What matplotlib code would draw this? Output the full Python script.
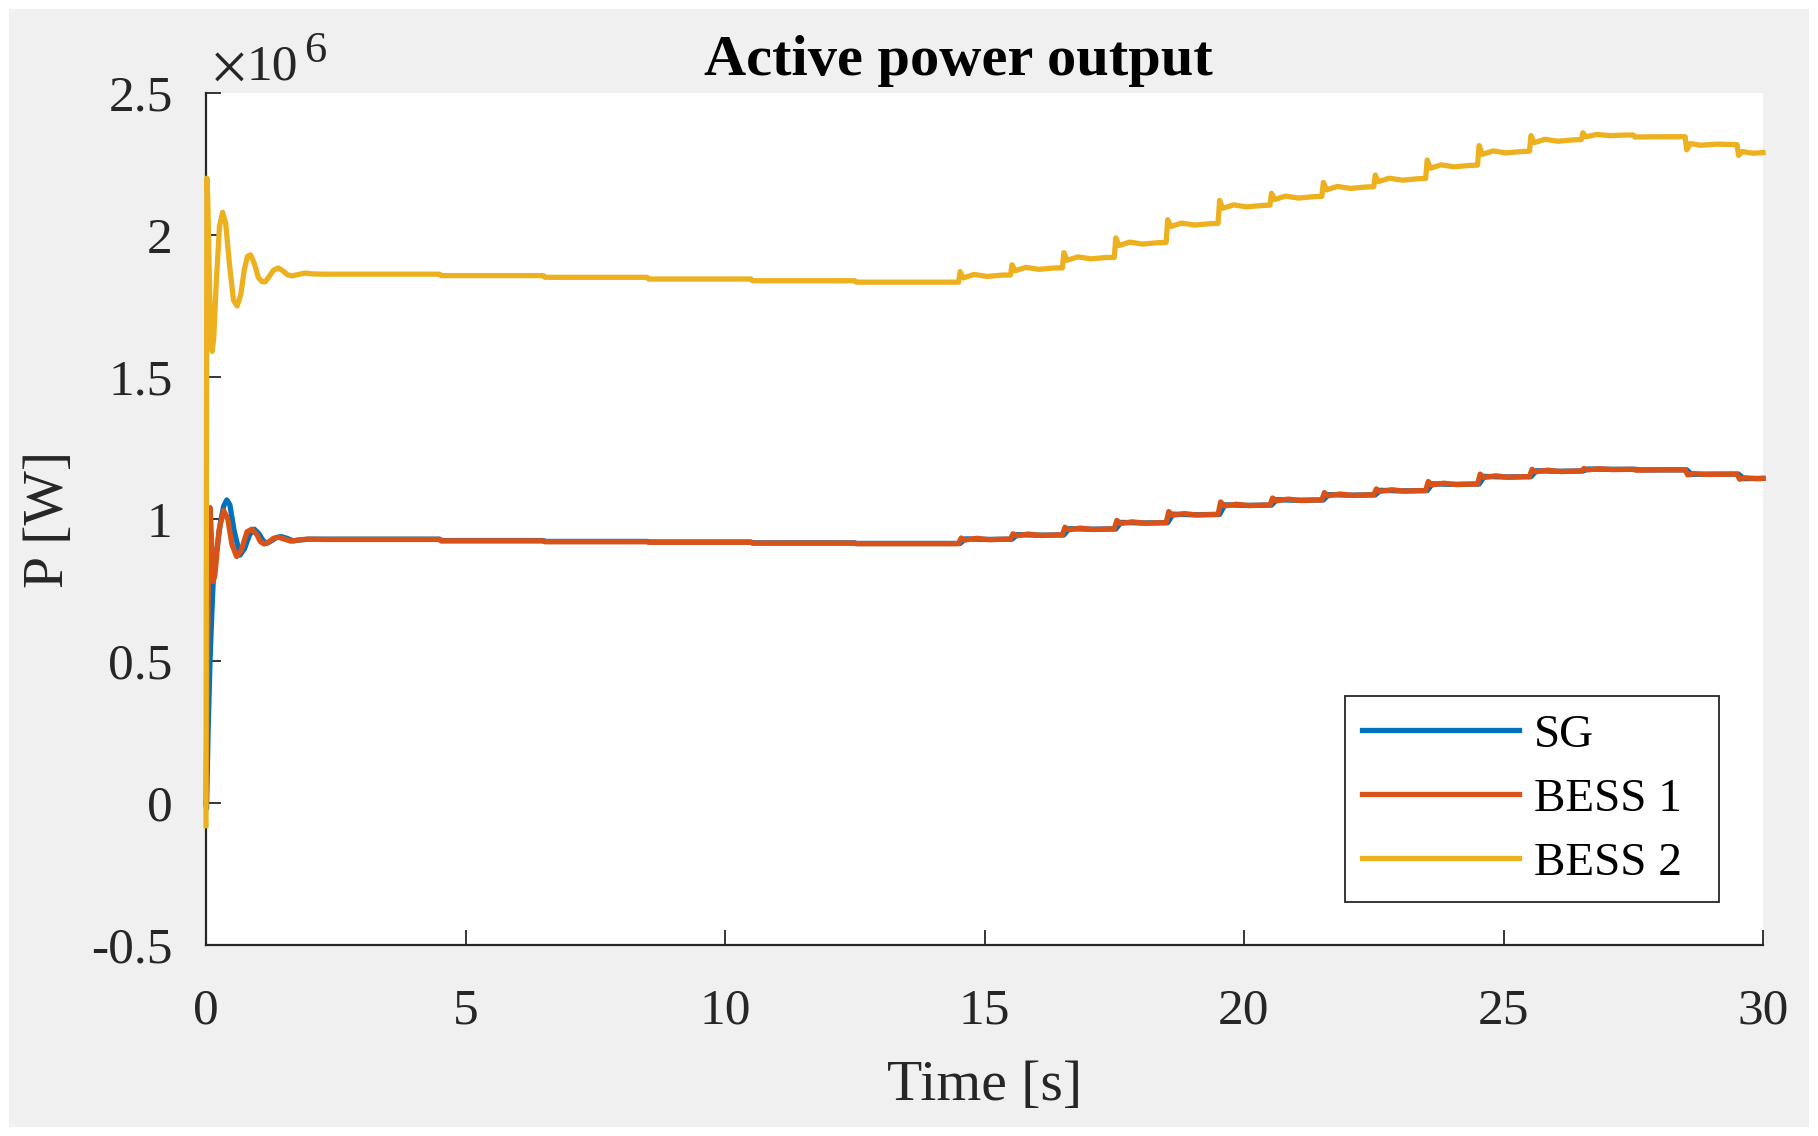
import numpy as np
import matplotlib.pyplot as plt
from matplotlib.patches import Rectangle
from matplotlib.ticker import FuncFormatter
plt.switch_backend('agg')

plt.rcParams['font.family'] = ['Liberation Serif', 'DejaVu Serif']
plt.rcParams['mathtext.fontset'] = 'stix'

# ---- data (power in units of 1e6 W) ----
t_sg = [0.000, 0.010, 0.040, 0.077, 0.110, 0.140, 0.200, 0.280, 0.340, 0.400, 0.460, 0.540,
        0.655, 0.740, 0.840, 0.930, 1.020, 1.100, 1.170, 1.250, 1.350, 1.445, 1.560, 1.680,
        1.850, 2.000, 2.300,
        4.50, 4.53, 6.50, 6.53, 8.50, 8.53, 10.50, 10.53, 12.50, 12.53, 14.50,
        14.53, 14.63, 15.00, 15.53, 15.63, 16.00, 16.53, 16.63, 17.00, 17.53, 17.63, 18.00,
        18.53, 18.63, 19.00, 19.53, 19.63, 20.00, 20.53, 20.63, 21.00, 21.53, 21.63, 22.00,
        22.53, 22.63, 23.00, 23.53, 23.63, 24.00, 24.53, 24.63, 25.00, 25.53, 25.63, 26.00,
        26.53, 26.63, 27.00, 27.53, 27.63, 28.53, 28.63, 29.00, 29.53, 29.63, 30.00]
p_sg = [0.000, -0.020, 0.250, 0.500, 0.660, 0.785, 0.880, 0.990, 1.045, 1.067, 1.050, 0.960,
        0.873, 0.895, 0.945, 0.964, 0.948, 0.924, 0.914, 0.922, 0.934, 0.938, 0.932, 0.923,
        0.927, 0.929, 0.929,
        0.929, 0.924, 0.924, 0.921, 0.921, 0.919, 0.919, 0.916, 0.916, 0.914, 0.914,
        0.914, 0.930, 0.928, 0.929, 0.945, 0.943, 0.944, 0.966, 0.964, 0.965, 0.988, 0.986,
        0.987, 1.017, 1.015, 1.016, 1.050, 1.048, 1.049, 1.068, 1.066, 1.067, 1.086, 1.084,
        1.085, 1.101, 1.099, 1.100, 1.124, 1.122, 1.123, 1.150, 1.148, 1.149, 1.170, 1.168,
        1.169, 1.176, 1.175, 1.175, 1.173, 1.173, 1.157, 1.158, 1.158, 1.142, 1.143]

t_b1 = [0.000, 0.030, 0.060, 0.080, 0.105, 0.135, 0.170, 0.250, 0.340, 0.420, 0.500, 0.590,
        0.680, 0.790, 0.880, 0.980, 1.050, 1.120, 1.200, 1.300, 1.390, 1.500, 1.630, 1.780,
        1.950, 2.300,
        4.50, 4.53, 6.50, 6.53, 8.50, 8.53, 10.50, 10.53, 12.50, 12.53, 14.50,
        14.55, 14.62, 14.85, 15.10, 15.40, 15.50,
        15.55, 15.62, 15.85, 16.10, 16.40, 16.50,
        16.55, 16.62, 16.85, 17.10, 17.40, 17.50,
        17.55, 17.62, 17.85, 18.10, 18.40, 18.50,
        18.55, 18.62, 18.85, 19.10, 19.40, 19.50,
        19.55, 19.62, 19.85, 20.10, 20.40, 20.50,
        20.55, 20.62, 20.85, 21.10, 21.40, 21.50,
        21.55, 21.62, 21.85, 22.10, 22.40, 22.50,
        22.55, 22.62, 22.85, 23.10, 23.40, 23.50,
        23.55, 23.62, 23.85, 24.10, 24.40, 24.50,
        24.55, 24.62, 24.85, 25.10, 25.40, 25.50,
        25.55, 25.62, 25.85, 26.10, 26.40, 26.50,
        26.55, 26.62, 26.85, 27.10, 27.50,
        27.55, 28.00, 28.50, 28.55, 28.65, 28.90, 29.50, 29.55, 29.65, 29.90, 30.00]
p_b1 = [0.000, 0.550, 1.000, 1.040, 0.930, 0.780, 0.800, 0.960, 1.030, 1.000, 0.910, 0.868,
        0.890, 0.955, 0.964, 0.945, 0.920, 0.912, 0.918, 0.932, 0.936, 0.930, 0.922, 0.926,
        0.929, 0.928,
        0.928, 0.923, 0.923, 0.920, 0.920, 0.918, 0.918, 0.915, 0.915, 0.913, 0.913,
        0.933, 0.926, 0.932, 0.927, 0.929, 0.929,
        0.948, 0.941, 0.947, 0.942, 0.944, 0.944,
        0.971, 0.962, 0.968, 0.963, 0.965, 0.965,
        0.995, 0.984, 0.990, 0.985, 0.987, 0.987,
        1.026, 1.013, 1.019, 1.014, 1.016, 1.016,
        1.060, 1.046, 1.052, 1.047, 1.049, 1.049,
        1.074, 1.064, 1.070, 1.065, 1.067, 1.067,
        1.093, 1.082, 1.088, 1.083, 1.085, 1.085,
        1.106, 1.097, 1.103, 1.098, 1.100, 1.100,
        1.132, 1.120, 1.126, 1.121, 1.123, 1.123,
        1.158, 1.146, 1.152, 1.147, 1.149, 1.149,
        1.175, 1.166, 1.172, 1.167, 1.169, 1.169,
        1.178, 1.173, 1.177, 1.174, 1.175,
        1.172, 1.173, 1.173, 1.155, 1.160, 1.157, 1.158, 1.140, 1.145, 1.142, 1.143]

t_b2 = [0.000, 0.008, 0.018, 0.035, 0.065, 0.095, 0.120, 0.150, 0.200, 0.260, 0.320, 0.380,
        0.450, 0.530, 0.600, 0.670, 0.740, 0.800, 0.860, 0.930, 1.010, 1.080, 1.140, 1.210,
        1.300, 1.390, 1.480, 1.570, 1.660, 1.780, 1.910, 2.050, 2.300,
        4.50, 4.53, 6.50, 6.53, 8.50, 8.53, 10.50, 10.53, 12.50, 12.53, 14.50,
        14.53, 14.59, 14.80, 15.05, 15.35, 15.50,
        15.53, 15.59, 15.80, 16.05, 16.35, 16.50,
        16.53, 16.59, 16.80, 17.05, 17.35, 17.50,
        17.53, 17.59, 17.80, 18.05, 18.35, 18.50,
        18.53, 18.59, 18.80, 19.05, 19.35, 19.50,
        19.53, 19.59, 19.80, 20.05, 20.35, 20.50,
        20.53, 20.59, 20.80, 21.05, 21.35, 21.50,
        21.53, 21.59, 21.80, 22.05, 22.35, 22.50,
        22.53, 22.59, 22.80, 23.05, 23.35, 23.50,
        23.53, 23.59, 23.80, 24.05, 24.35, 24.50,
        24.53, 24.59, 24.80, 25.05, 25.35, 25.50,
        25.53, 25.59, 25.80, 26.05, 26.35, 26.50,
        26.53, 26.59, 26.80, 27.05, 27.35, 27.50,
        27.53, 28.00, 28.50, 28.53, 28.60, 28.80, 29.10, 29.50, 29.53, 29.60, 29.80, 30.00]
p_b2 = [-0.080, 1.100, 2.200, 2.120, 1.840, 1.630, 1.590, 1.640, 1.840, 2.030, 2.080, 2.040,
        1.900, 1.770, 1.750, 1.790, 1.880, 1.925, 1.930, 1.900, 1.850, 1.836, 1.835, 1.852,
        1.876, 1.884, 1.874, 1.860, 1.856, 1.861, 1.866, 1.863, 1.862,
        1.862, 1.857, 1.857, 1.851, 1.851, 1.845, 1.845, 1.839, 1.839, 1.834, 1.834,
        1.871, 1.849, 1.861, 1.854, 1.859, 1.859,
        1.895, 1.874, 1.886, 1.879, 1.884, 1.884,
        1.938, 1.911, 1.923, 1.916, 1.921, 1.921,
        1.990, 1.963, 1.975, 1.968, 1.973, 1.974,
        2.054, 2.030, 2.042, 2.035, 2.040, 2.041,
        2.122, 2.094, 2.106, 2.099, 2.104, 2.105,
        2.147, 2.125, 2.137, 2.130, 2.135, 2.136,
        2.185, 2.159, 2.171, 2.164, 2.169, 2.170,
        2.211, 2.188, 2.200, 2.193, 2.198, 2.199,
        2.264, 2.235, 2.247, 2.240, 2.245, 2.246,
        2.315, 2.284, 2.296, 2.289, 2.294, 2.295,
        2.350, 2.325, 2.337, 2.330, 2.335, 2.336,
        2.360, 2.346, 2.354, 2.350, 2.352, 2.352,
        2.345, 2.346, 2.346, 2.300, 2.322, 2.316, 2.320, 2.318, 2.280, 2.294, 2.288, 2.290]

names = ['SG', 'BESS 1', 'BESS 2']
colors = ['#0072BD', '#D95319', '#EDB120']
x_ticks = [0, 5, 10, 15, 20, 25, 30]
y_ticks = [-0.5, 0, 0.5, 1, 1.5, 2, 2.5]

# ---- figure ----
W, H = 1818, 1136
fig = plt.figure(figsize=(W / 100, H / 100), dpi=100)
fig.patch.set_facecolor('white')
fig.add_artist(Rectangle((9 / W, 9 / H), (W - 18) / W, (H - 18) / H,
                         transform=fig.transFigure, facecolor='#f0f0f0',
                         edgecolor='none', zorder=-10))

ax = fig.add_axes([206 / W, 1 - 945 / H, (1763 - 206) / W, (945 - 93) / H])
ax.set_facecolor('white')

series = [(t_sg, p_sg), (t_b1, p_b1), (t_b2, p_b2)]
for (tt, pp), nm, cl in zip(series, names, colors):
    ax.plot(tt, np.array(pp) * 1e6, color=cl, lw=3.8, label=nm,
            solid_joinstyle='round', zorder=3, clip_on=False)

ax.set_xlim(0, 30)
ax.set_ylim(-0.5e6, 2.5e6)
ax.set_xticks(x_ticks)
ax.set_yticks([v * 1e6 for v in y_ticks])
ax.yaxis.set_major_formatter(FuncFormatter(lambda v, pos: '%g' % (v / 1e6)))

for s in ['top', 'right']:
    ax.spines[s].set_visible(False)
for s in ['left', 'bottom']:
    ax.spines[s].set_linewidth(1.6)
    ax.spines[s].set_color('#262626')

ax.tick_params(axis='both', direction='in', length=11, width=1.3, color='#262626',
               labelsize=37, labelcolor='#262626')
ax.tick_params(axis='x', pad=31)
ax.tick_params(axis='y', pad=24)

# exponent label, MATLAB style
ax.text(0.0039, 1.0153, r'$\times$', transform=ax.transAxes, fontsize=37,
        color='#262626', ha='left', va='baseline')
ax.text(0.0263, 1.0153, '10', transform=ax.transAxes, fontsize=37,
        color='#262626', ha='left', va='baseline')
ax.text(0.063, 1.0364, '6', transform=ax.transAxes, fontsize=32,
        color='#262626', ha='left', va='baseline')

ax.set_title('Active power output', fontsize=42, fontweight='bold', pad=13, x=0.483)
ax.set_xlabel('Time [s]', fontsize=41.5, color='#262626')
ax.set_ylabel('P [W]', fontsize=41.5, color='#262626')
ax.xaxis.set_label_coords(0.5, -0.1345)
ax.yaxis.set_label_coords(-0.084, 0.5)

leg = ax.legend(loc='lower left', bbox_to_anchor=(0.7315, 0.0505, 0.2402, 0.2),
                mode='expand', borderaxespad=0,
                fontsize=34, handlelength=3.31, handletextpad=0.32, labelspacing=0.44,
                borderpad=0.37, fancybox=False, framealpha=1, edgecolor='#262626')
leg.get_frame().set_linewidth(1.3)

fig.savefig('out.png', dpi=100)
